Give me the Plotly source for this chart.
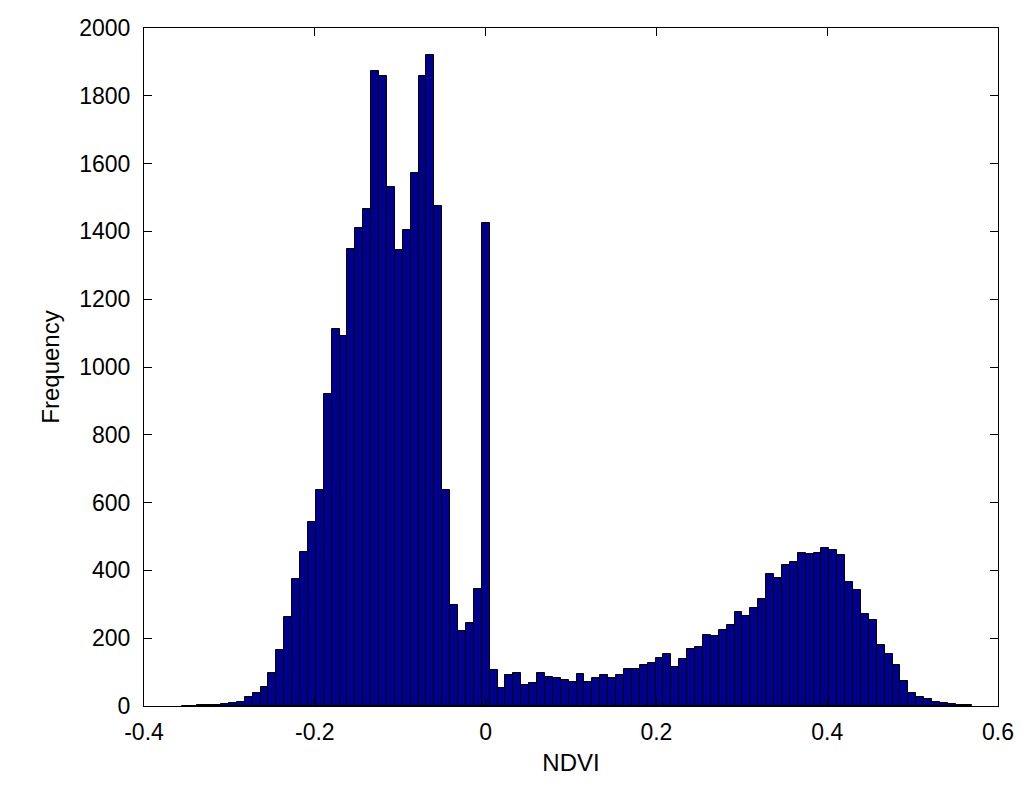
import plotly.graph_objects as go

# Histogram data (MATLAB-style hist with 100 bins)
ndvi_min = -0.356
ndvi_max = 0.569
n_bins = 100
counts = [
    1, 1, 2, 2, 3, 6, 9, 11, 26, 37,
    56, 98, 165, 262, 376, 454, 542, 636, 920, 1112,
    1092, 1349, 1409, 1465, 1873, 1858, 1530, 1346, 1404, 1571,
    1858, 1920, 1476, 638, 299, 221, 246, 346, 1426, 107,
    54, 91, 98, 63, 67, 98, 86, 83, 76, 71,
    94, 71, 84, 90, 82, 92, 110, 110, 121, 127,
    141, 153, 116, 140, 169, 174, 210, 207, 224, 239,
    278, 266, 288, 317, 390, 377, 415, 424, 450, 447,
    450, 467, 460, 445, 366, 343, 270, 255, 179, 152,
    121, 73, 38, 26, 20, 13, 9, 6, 3, 3,
]
x_ticks = [-0.4, -0.2, 0, 0.2, 0.4, 0.6]
x_tick_labels = ["-0.4", "-0.2", "0", "0.2", "0.4", "0.6"]
y_ticks = [0, 200, 400, 600, 800, 1000, 1200, 1400, 1600, 1800, 2000]

bin_w = (ndvi_max - ndvi_min) / n_bins
centers = [ndvi_min + (i + 0.5) * bin_w for i in range(n_bins)]

fig = go.Figure(
    go.Bar(
        x=centers,
        y=counts,
        width=bin_w,
        marker=dict(color="#00008F", line=dict(color="black", width=1)),
        showlegend=False,
    )
)

font_family = "Liberation Sans, Arial, sans-serif"
fig.update_layout(
    width=1008,
    height=783,
    margin=dict(l=136, r=18, t=20, b=85),
    paper_bgcolor="white",
    plot_bgcolor="white",
    bargap=0,
    font=dict(family=font_family, size=23, color="black"),
)
fig.update_xaxes(
    range=[-0.4, 0.6],
    tickvals=x_ticks,
    ticktext=x_tick_labels,
    ticks="inside",
    ticklen=8,
    tickcolor="black",
    ticklabelstandoff=5,
    ticklabeloverflow="allow",
    automargin=False,
    showline=True,
    linecolor="black",
    linewidth=1,
    mirror="ticks",
    showgrid=False,
    zeroline=False,
    title=dict(text="NDVI", standoff=10, font=dict(size=24)),
)
fig.update_yaxes(
    range=[0, 2000],
    tickvals=y_ticks,
    ticks="inside",
    ticklen=8,
    tickcolor="black",
    ticklabelstandoff=8,
    automargin=False,
    showline=True,
    linecolor="black",
    linewidth=1,
    mirror="ticks",
    showgrid=False,
    zeroline=False,
    title=dict(text="Frequency", standoff=12, font=dict(size=24)),
)

fig.write_html("out.html")
